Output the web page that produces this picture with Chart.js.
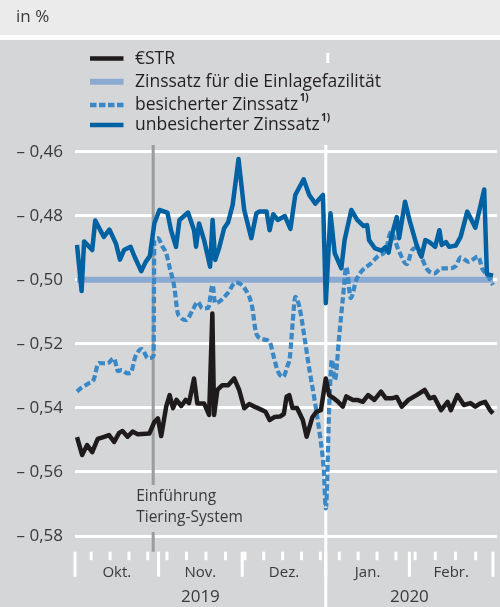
<!DOCTYPE html>
<html>
<head>
<meta charset="utf-8">
<script src="https://cdn.jsdelivr.net/npm/chart.js@4/dist/chart.umd.min.js"></script>
<style>
html,body{margin:0;padding:0;background:#fff;}
#wrap{position:relative;width:500px;height:607px;}
canvas{display:block;}
</style>
</head>
<body>
<div id="wrap"><canvas id="c" width="500" height="607"></canvas></div>
<script>
// x values: months since 1 Oct 2019 (0 = 1 Oct, 1 = 1 Nov, ... 5 = 1 Mar 2020)
const monthLabels = ['Okt.', 'Nov.', 'Dez.', 'Jan.', 'Febr.'];
const yearLabels = ['2019', '2020'];
const yearSpans = [[0, 3], [3, 5]];
const yTickValues = [-0.46, -0.48, -0.50, -0.52, -0.54, -0.56, -0.58];
const weekTicks = ['2019-10-07','2019-10-14','2019-10-21','2019-10-28','2019-11-04','2019-11-11','2019-11-18','2019-11-25',
  '2019-12-02','2019-12-09','2019-12-16','2019-12-23','2019-12-30','2020-01-06','2020-01-13','2020-01-20','2020-01-27',
  '2020-02-03','2020-02-10','2020-02-17','2020-02-24'];
const tieringDate = '2019-10-30';
const seriesNames = ['€STR', 'Zinssatz für die Einlagefazilität', 'besicherter Zinssatz', 'unbesicherter Zinssatz'];

const estrT = [0.024,0.085,0.145,0.206,0.272,0.339,0.407,0.468,0.528,0.568,0.629,0.689,0.750,0.889,0.949,0.992,
  1.031,1.091,1.132,1.172,1.214,1.271,1.324,1.364,1.424,1.463,1.544,1.604,1.643,1.664,1.703,1.763,1.832,1.904,1.964,
  2.024,2.085,2.146,2.207,2.279,2.328,2.389,2.450,2.498,2.531,2.563,2.601,2.656,2.725,2.771,2.838,2.887,2.942,
  3.000,3.040,3.091,3.147,3.204,3.245,3.325,3.376,3.443,3.506,3.581,3.660,3.719,3.790,3.849,3.909,3.988,
  4.086,4.183,4.242,4.297,4.379,4.457,4.496,4.574,4.652,4.730,4.789,4.848,4.906,4.965,5.000];
const estrV = [-0.5491,-0.5547,-0.5516,-0.5538,-0.5497,-0.5491,-0.5485,-0.5506,-0.5478,-0.5472,-0.5490,-0.5474,-0.5482,-0.5480,-0.5444,-0.5433,
  -0.5488,-0.5396,-0.5360,-0.5401,-0.5375,-0.5394,-0.5375,-0.5385,-0.5308,-0.5386,-0.5386,-0.5422,-0.5105,-0.5422,-0.5344,-0.5329,-0.5329,-0.5308,-0.5344,
  -0.5401,-0.5388,-0.5396,-0.5403,-0.5412,-0.5438,-0.5428,-0.5427,-0.5419,-0.5365,-0.5360,-0.5400,-0.5400,-0.5438,-0.5490,-0.5430,-0.5412,-0.5407,
  -0.5308,-0.5361,-0.5369,-0.5381,-0.5396,-0.5364,-0.5375,-0.5375,-0.5381,-0.5360,-0.5375,-0.5349,-0.5370,-0.5370,-0.5366,-0.5396,-0.5375,
  -0.5360,-0.5344,-0.5370,-0.5366,-0.5407,-0.5381,-0.5407,-0.5360,-0.5391,-0.5385,-0.5396,-0.5386,-0.5381,-0.5407,-0.5417];

const depoT = [0.024, 5.000];
const depoV = [-0.50, -0.50];

const securedT = [0.024,0.073,0.166,0.221,0.284,0.387,0.466,0.514,0.556,0.629,0.665,0.722,0.798,0.874,0.940,0.949,0.992,
  1.048,1.091,1.130,1.190,1.226,1.256,1.328,1.408,1.468,1.524,1.592,1.646,1.676,1.728,1.826,1.924,
  2.043,2.115,2.170,2.252,2.328,2.377,2.425,2.492,2.538,2.571,2.603,2.635,2.684,2.744,2.805,2.866,2.926,2.976,
  3.000,3.044,3.073,3.109,3.159,3.206,3.245,3.299,3.364,3.443,3.530,3.624,3.719,3.778,3.870,3.968,
  4.033,4.074,4.144,4.203,4.300,4.379,4.476,4.555,4.613,4.710,4.822,4.873,4.941,5.000];
const securedV = [-0.5349,-0.5338,-0.5323,-0.5313,-0.5260,-0.5261,-0.5245,-0.5285,-0.5282,-0.5292,-0.5291,-0.5240,-0.5216,-0.5245,-0.5238,-0.4876,-0.4870,
  -0.4897,-0.4917,-0.4959,-0.5026,-0.5101,-0.5116,-0.5126,-0.5094,-0.5069,-0.5089,-0.5088,-0.5016,-0.5073,-0.5068,-0.5042,-0.5008,
  -0.5032,-0.5079,-0.5169,-0.5186,-0.5194,-0.5240,-0.5285,-0.5303,-0.5271,-0.5240,-0.5136,-0.5053,-0.5084,-0.5178,-0.5282,-0.5375,-0.5479,-0.5594,
  -0.5714,-0.5375,-0.5250,-0.5313,-0.5179,-0.5054,-0.4960,-0.5057,-0.5001,-0.4969,-0.4951,-0.4926,-0.4907,-0.4851,-0.4907,-0.4951,
  -0.4907,-0.4901,-0.4928,-0.4964,-0.4980,-0.4964,-0.4964,-0.4957,-0.4930,-0.4944,-0.4927,-0.4966,-0.4988,-0.5016];

const unsecuredT = [0.024,0.079,0.109,0.206,0.242,0.345,0.411,0.490,0.538,0.586,0.665,0.713,0.792,0.846,0.895,0.949,
  1.010,1.106,1.148,1.208,1.250,1.352,1.424,1.448,1.484,1.544,1.616,1.646,1.676,1.724,1.784,1.832,1.886,1.956,
  2.024,2.109,2.170,2.207,2.292,2.328,2.371,2.425,2.510,2.577,2.635,2.735,2.802,2.875,2.966,
  3.000,3.056,3.107,3.186,3.225,3.305,3.376,3.453,3.494,3.518,3.589,3.666,3.713,3.751,3.790,3.849,3.877,3.948,
  4.004,4.086,4.144,4.191,4.238,4.308,4.359,4.387,4.437,4.476,4.555,4.613,4.692,4.789,4.895,4.927,5.000];
const unsecuredV = [-0.4891,-0.5035,-0.4880,-0.4907,-0.4815,-0.4866,-0.4843,-0.4887,-0.4937,-0.4907,-0.4897,-0.4928,-0.4973,-0.4944,-0.4926,-0.4824,
  -0.4782,-0.4790,-0.4845,-0.4897,-0.4813,-0.4790,-0.4845,-0.4897,-0.4824,-0.4876,-0.4959,-0.4813,-0.4938,-0.4901,-0.4839,-0.4820,-0.4766,-0.4623,
  -0.4782,-0.4870,-0.4792,-0.4787,-0.4787,-0.4845,-0.4795,-0.4813,-0.4801,-0.4841,-0.4735,-0.4686,-0.4735,-0.4762,-0.4735,
  -0.5073,-0.4792,-0.4917,-0.4964,-0.4876,-0.4782,-0.4813,-0.4832,-0.4829,-0.4876,-0.4902,-0.4909,-0.4898,-0.4915,-0.4860,-0.4804,-0.4870,-0.4756,
  -0.4816,-0.4891,-0.4928,-0.4876,-0.4882,-0.4897,-0.4845,-0.4891,-0.4882,-0.4897,-0.4893,-0.4866,-0.4787,-0.4837,-0.4718,-0.4982,-0.4987];

const COLORS = {
  header: '#ebebec', panel: '#d5d6d8', grid: '#ffffff', text: '#3a3a3a',
  estr: '#1f1b1c', depo: '#8aaad2', secured: '#3a88c5', unsecured: '#0062a3', tiering: '#9b9c9e'
};
const FONT = '"Open Sans", "Noto Sans", sans-serif';

function dateToT(s) {
  const [y, m, d] = s.split('-').map(Number);
  const idx = (y - 2019) * 12 + (m - 10);
  const dim = new Date(y, m, 0).getDate();
  return idx + (d - 1) / dim;
}
function pts(t, v) { return t.map((x, i) => ({x: x, y: v[i]})); }
function fmt(v) { return '\u2013 ' + Math.abs(v).toFixed(2).replace('.', ','); }

const decor = {
  id: 'decor',
  beforeDraw(chart) {
    const ctx = chart.ctx;
    ctx.save();
    ctx.fillStyle = '#ffffff';
    ctx.fillRect(0, 0, chart.width, chart.height);
    ctx.fillStyle = COLORS.header;
    ctx.fillRect(0, 0, chart.width, 35);
    ctx.fillStyle = COLORS.panel;
    ctx.fillRect(0, 40, chart.width, chart.height - 40);
    ctx.fillStyle = COLORS.text;
    ctx.font = '17px ' + FONT;
    ctx.textBaseline = 'middle';
    ctx.textAlign = 'left';
    ctx.fillText('in %', 16, 17);
    ctx.restore();
  },
  beforeDatasetsDraw(chart) {
    const ctx = chart.ctx, xs = chart.scales.x, a = chart.chartArea;
    ctx.save();
    // year separator
    const xy = xs.getPixelForValue(yearSpans[1][0]);
    ctx.strokeStyle = COLORS.grid; ctx.lineWidth = 3;
    ctx.beginPath(); ctx.moveTo(xy, a.top); ctx.lineTo(xy, chart.height); ctx.stroke();
    ctx.beginPath(); ctx.moveTo(xy + 2, 53); ctx.lineTo(xy + 2, 63); ctx.stroke();
    // tiering line
    const xt = xs.getPixelForValue(dateToT(tieringDate));
    ctx.strokeStyle = COLORS.tiering; ctx.lineWidth = 3;
    ctx.beginPath(); ctx.moveTo(xt, a.top); ctx.lineTo(xt, 485);
    ctx.moveTo(xt, 532); ctx.lineTo(xt, a.bottom); ctx.stroke();
    ctx.fillStyle = COLORS.text;
    ctx.font = '15.5px ' + FONT;
    ctx.textAlign = 'left'; ctx.textBaseline = 'middle';
    ctx.fillText('Einführung', xt - 17, 497);
    ctx.fillText('Tiering-System', xt - 17, 518);
    ctx.restore();
  },
  afterDraw(chart) {
    const ctx = chart.ctx, xs = chart.scales.x, a = chart.chartArea;
    ctx.save();
    ctx.strokeStyle = COLORS.grid; ctx.lineWidth = 3;
    // month boundary ticks
    for (let m = 0; m <= monthLabels.length; m++) {
      const x = xs.getPixelForValue(m);
      ctx.beginPath(); ctx.moveTo(x, a.bottom); ctx.lineTo(x, a.bottom + 25); ctx.stroke();
    }
    weekTicks.forEach(d => {
      const x = xs.getPixelForValue(dateToT(d));
      ctx.beginPath(); ctx.moveTo(x, a.bottom); ctx.lineTo(x, a.bottom + 8.5); ctx.stroke();
    });
    ctx.fillStyle = COLORS.text;
    ctx.textAlign = 'center'; ctx.textBaseline = 'middle';
    ctx.font = '15px ' + FONT;
    monthLabels.forEach((l, m) => {
      ctx.fillText(l, (xs.getPixelForValue(m) + xs.getPixelForValue(m + 1)) / 2, 573);
    });
    ctx.font = '17px ' + FONT;
    yearLabels.forEach((l, i) => {
      ctx.fillText(l, (xs.getPixelForValue(yearSpans[i][0]) + xs.getPixelForValue(yearSpans[i][1])) / 2, 597);
    });
    // legend
    const rows = [
      {y: 58.5, color: COLORS.estr, w: 4.5, dash: []},
      {y: 81.7, color: COLORS.depo, w: 6, dash: []},
      {y: 105, color: COLORS.secured, w: 4.7, dash: [6.5, 2.5]},
      {y: 125, color: COLORS.unsecured, w: 4.7, dash: []}
    ];
    rows.forEach((r, i) => {
      ctx.strokeStyle = r.color; ctx.lineWidth = r.w; ctx.setLineDash(r.dash); ctx.lineCap = 'butt';
      ctx.beginPath(); ctx.moveTo(90, r.y); ctx.lineTo(123.5, r.y); ctx.stroke();
      ctx.setLineDash([]);
      ctx.fillStyle = '#231f20';
      ctx.font = '17.5px ' + FONT;
      ctx.textAlign = 'left'; ctx.textBaseline = 'middle';
      const ty = r.y + 0.5;
      ctx.fillText(seriesNames[i], 135, ty);
      if (i >= 2) {
        const w = ctx.measureText(seriesNames[i]).width;
        ctx.font = 'bold 10px ' + FONT;
        ctx.fillText('1)', 135 + w + 1.5, ty - 7);
      }
    });
    ctx.restore();
  }
};

const common = {fill: false, pointRadius: 0, tension: 0, borderJoinStyle: 'round', borderCapStyle: 'butt'};
new Chart(document.getElementById('c'), {
  type: 'line',
  data: {
    datasets: [
      Object.assign({label: seriesNames[0], data: pts(estrT, estrV), borderColor: COLORS.estr, borderWidth: 4.5}, common),
      Object.assign({label: seriesNames[3], data: pts(unsecuredT, unsecuredV), borderColor: COLORS.unsecured, borderWidth: 4.5}, common),
      Object.assign({label: seriesNames[2], data: pts(securedT, securedV), borderColor: COLORS.secured, borderWidth: 4.2, borderDash: [6.5, 3], cubicInterpolationMode: 'monotone'}, common),
      Object.assign({label: seriesNames[1], data: pts(depoT, depoV), borderColor: COLORS.depo, borderWidth: 6}, common)
    ]
  },
  options: {
    responsive: false,
    animation: false,
    events: [],
    layout: {padding: {left: 0, right: 3, top: 145, bottom: 55.3}},
    plugins: {legend: {display: false}, tooltip: {enabled: false}},
    scales: {
      x: {type: 'linear', display: false, min: 0, max: 5.048},
      y: {
        type: 'linear', position: 'left', min: -0.5849, max: -0.4579,
        afterFit(s) { s.width = 75; },
        afterBuildTicks(s) { s.ticks = yTickValues.map(v => ({value: v})); },
        border: {display: false},
        grid: {color: COLORS.grid, lineWidth: 3, drawTicks: false},
        ticks: {
          padding: 12, color: COLORS.text,
          font: {size: 17, family: FONT},
          callback: v => fmt(v)
        }
      }
    }
  },
  plugins: [decor]
});
</script>
</body>
</html>
